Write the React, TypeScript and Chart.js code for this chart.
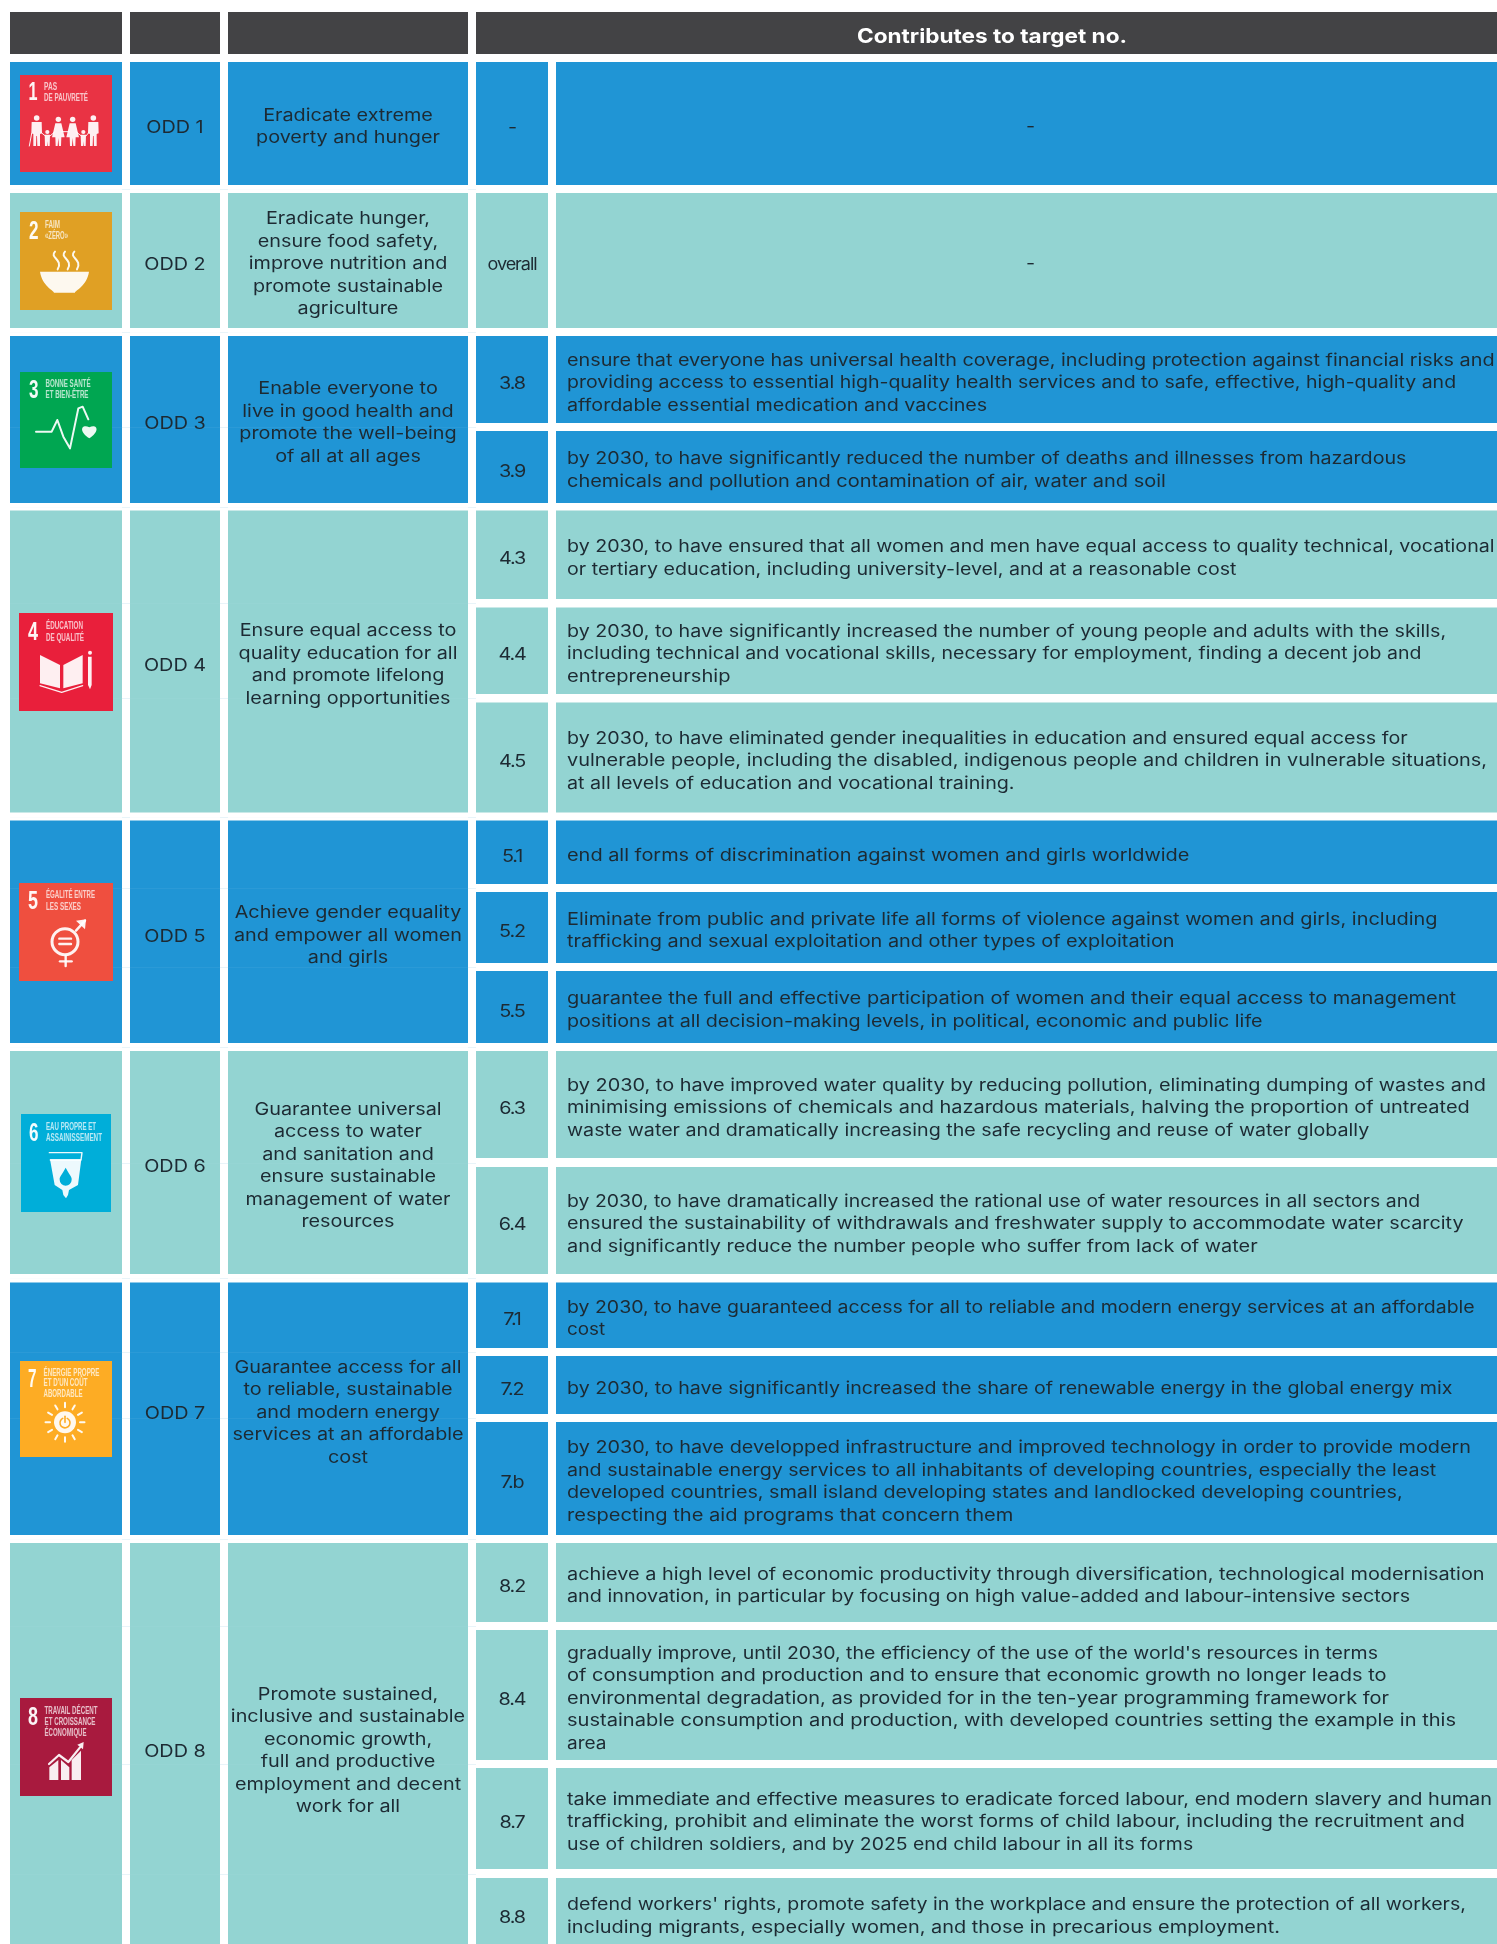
import React, { useEffect, useRef } from "react";
import { Chart, registerables } from "chart.js";

Chart.register(...registerables);

const WIDTH = 1497;
const HEIGHT = 1944;

const BLUE = "#2095d5";
const TEAL = "#93d4d2";
const DARK = "#434345";
const INK = "#1d2a33";

// ---- content -----
const headerTitle = "Contributes to target no.";
const goalLabels = ["ODD 1", "ODD 2", "ODD 3", "ODD 4", "ODD 5", "ODD 6", "ODD 7", "ODD 8"];
const goalTexts = [
  ["Eradicate extreme", "poverty and hunger"],
  ["Eradicate hunger,", "ensure food safety,", "improve nutrition and", "promote sustainable", "agriculture"],
  ["Enable everyone to", "live in good health and", "promote the well-being", "of all at all ages"],
  ["Ensure equal access to", "quality education for all", "and promote lifelong", "learning opportunities"],
  ["Achieve gender equality", "and empower all women", "and girls"],
  ["Guarantee universal", "access to water", "and sanitation and", "ensure sustainable", "management of water", "resources"],
  ["Guarantee access for all", "to reliable, sustainable", "and modern energy", "services at an affordable", "cost"],
  ["Promote sustained,", "inclusive and sustainable", "economic growth,", "full and productive", "employment and decent", "work for all"],
];
const targetGoal = [0, 1, 2, 2, 3, 3, 3, 4, 4, 4, 5, 5, 6, 6, 6, 7, 7, 7, 7];
const targetNumbers = ["-", "overall", "3.8", "3.9", "4.3", "4.4", "4.5", "5.1", "5.2", "5.5", "6.3", "6.4", "7.1", "7.2", "7.b", "8.2", "8.4", "8.7", "8.8"];
const targetTexts = [
  ["-"],
  ["-"],
  ["ensure that everyone has universal health coverage, including protection against financial risks and", "providing access to essential high-quality health services and to safe, effective, high-quality and", "affordable essential medication and vaccines"],
  ["by 2030, to have significantly reduced the number of deaths and illnesses from hazardous", "chemicals and pollution and contamination of air, water and soil"],
  ["by 2030, to have ensured that all women and men have equal access to quality technical, vocational", "or tertiary education, including university-level, and at a reasonable cost"],
  ["by 2030, to have significantly increased the number of young people and adults with the skills,", "including technical and vocational skills, necessary for employment, finding a decent job and", "entrepreneurship"],
  ["by 2030, to have eliminated gender inequalities in education and ensured equal access for", "vulnerable people, including the disabled, indigenous people and children in vulnerable situations,", "at all levels of education and vocational training."],
  ["end all forms of discrimination against women and girls worldwide"],
  ["Eliminate from public and private life all forms of violence against women and girls, including", "trafficking and sexual exploitation and other types of exploitation"],
  ["guarantee the full and effective participation of women and their equal access to management", "positions at all decision-making levels, in political, economic and public life"],
  ["by 2030, to have improved water quality by reducing pollution, eliminating dumping of wastes and", "minimising emissions of chemicals and hazardous materials, halving the proportion of untreated", "waste water and dramatically increasing the safe recycling and reuse of water globally"],
  ["by 2030, to have dramatically increased the rational use of water resources in all sectors and", "ensured the sustainability of withdrawals and freshwater supply to accommodate water scarcity", "and significantly reduce the number people who suffer from lack of water"],
  ["by 2030, to have guaranteed access for all to reliable and modern energy services at an affordable", "cost"],
  ["by 2030, to have significantly increased the share of renewable energy in the global energy mix"],
  ["by 2030, to have developped infrastructure and improved technology in order to provide modern", "and sustainable energy services to all inhabitants of developing countries, especially the least", "developed countries, small island developing states and landlocked developing countries,", "respecting the aid programs that concern them"],
  ["achieve a high level of economic productivity through diversification, technological modernisation", "and innovation, in particular by focusing on high value-added and labour-intensive sectors"],
  ["gradually improve, until 2030, the efficiency of the use of the world's resources in terms", "of consumption and production and to ensure that economic growth no longer leads to", "environmental degradation, as provided for in the ten-year programming framework for", "sustainable consumption and production, with developed countries setting the example in this", "area"],
  ["take immediate and effective measures to eradicate forced labour, end modern slavery and human", "trafficking, prohibit and eliminate the worst forms of child labour, including the recruitment and", "use of children soldiers, and by 2025 end child labour in all its forms"],
  ["defend workers' rights, promote safety in the workplace and ensure the protection of all workers,", "including migrants, especially women, and those in precarious employment."],
];
const iconNumbers = ["1", "2", "3", "4", "5", "6", "7", "8"];
const iconTitles = [
  ["PAS", "DE PAUVRETÉ"],
  ["FAIM", "«ZÉRO»"],
  ["BONNE SANTÉ", "ET BIEN-ÊTRE"],
  ["ÉDUCATION", "DE QUALITÉ"],
  ["ÉGALITÉ ENTRE", "LES SEXES"],
  ["EAU PROPRE ET", "ASSAINISSEMENT"],
  ["ÉNERGIE PROPRE", "ET D'UN COÛT", "ABORDABLE"],
  ["TRAVAIL DÉCENT", "ET CROISSANCE", "ÉCONOMIQUE"],
];
const iconColors = ["#e93344", "#e0a024", "#00a651", "#e91f3b", "#ef4f3f", "#00aed9", "#fdac24", "#a81a3e"];

// ---- layout (table grid in scale units) -----
const colStart = [10, 130, 228, 476, 556];
const colEnd = [122, 220, 468, 548, 1497];
const headerTop = 12;
const headerBottom = 54;
const goalTop = [62, 193, 336, 510.5, 820.5, 1051, 1282.5, 1543];
const goalBottom = [185, 328, 503, 812.5, 1043, 1274, 1535, 1944];
const goalTextCentre = [123.5, 260.5, 419.5, 661.5, 932, 1162.5, 1409, 1747.5];
const targetTop = [62, 193, 336, 431, 510.5, 607.5, 702.5, 820.5, 892, 971, 1051, 1167, 1282.5, 1356, 1422, 1543, 1630, 1768, 1878];
const targetBottom = [185, 328, 423, 503, 599, 694, 812.5, 884, 963, 1043, 1158, 1274, 1348, 1414, 1535, 1622, 1760, 1869, 1944];
const targetCentreFix: Record<number, number> = { 18: 1913 };
// right end of every target line (read from the shrunk 1207-wide view)
const targetLineEnd = [
  [0], [0],
  [1205, 1174, 796], [1134, 940], [1205, 997], [1166, 1146, 589], [1135, 1199, 818],
  [959], [1159, 947], [1174, 1018], [1198, 1185, 1104], [1145, 1180, 1014],
  [1189, 488], [1171], [1186, 1158, 1131, 817], [1197, 1137], [1111, 1118, 1120, 1174, 489],
  [1203, 1181, 962], [1182, 1032],
];
const VIEW_SCALE = 1497 / 1207;
const iconBox = [
  [20, 75, 112, 172], [20, 212, 112, 310], [20, 372, 112, 468], [19, 613, 113, 711],
  [19, 883, 113, 981], [21, 1114, 111, 1212], [20, 1361, 112, 1457], [20, 1698, 112, 1796],
];
const iconDigit = [[28.5, 100, 9], [29, 239, 9.5], [29, 398, 9.5], [28, 640, 10], [28, 909, 10], [29, 1141, 9.5], [28, 1387, 8.5], [28, 1725, 10]];
const iconTitleX = [44, 45, 45.5, 46, 46, 46, 43.5, 44.5];
const iconTitleY = [[90, 101], [227.5, 239], [387, 398], [629, 640.7], [898, 910], [1130, 1141], [1376, 1386, 1397], [1714, 1725, 1736]];
const iconTitleW = [[13, 44], [15, 23], [45, 43], [37, 38], [49, 35], [50, 56], [56, 44, 39], [53, 51, 42]];

const TEXT_FONT = "17px Inter";
const LINE = 22.5;
const BASE_OFF = 8.5;
const LABEL_OFF = 9.5;

const goalColour = (i: number) => (i % 2 === 0 ? BLUE : TEAL);

function columnData(col: number) {
  const cx = (colStart[col] + colEnd[col]) / 2;
  if (col < 3) {
    return [{ x: cx, y: [headerTop, headerBottom] }, ...goalTop.map((t, i) => ({ x: cx, y: [t, goalBottom[i]] }))];
  }
  return targetTop.map((t, i) => ({ x: cx, y: [t, targetBottom[i]] }));
}

function drawGlyph(c: CanvasRenderingContext2D, i: number, X: (v: number) => number, Y: (v: number) => number, colour: string) {
  const P = (px: number, py: number, oy: number): [number, number] => [X(px / 3), Y(oy + py / 3)];
  const W = "rgba(255,255,255,0.93)";
  c.fillStyle = W;
  c.strokeStyle = W;
  c.lineCap = "round";
  c.lineJoin = "round";
  const poly = (pts: [number, number][], fill = true) => {
    c.beginPath();
    pts.forEach((p, k) => (k ? c.lineTo(p[0], p[1]) : c.moveTo(p[0], p[1])));
    if (fill) { c.closePath(); c.fill(); } else c.stroke();
  };
  const circle = (p: [number, number], r: number) => { c.beginPath(); c.arc(p[0], p[1], r, 0, Math.PI * 2); c.fill(); };
  if (i === 0) {
    const man = (z: number) => {
      circle(P(z, 354, 0), 2.8);
      poly([P(z - 15, 366, 0), P(z + 15, 366, 0), P(z + 16, 400, 0), P(z + 10, 402, 0), P(z + 10, 438, 0), P(z + 2, 438, 0), P(z + 1, 408, 0), P(z - 1, 408, 0), P(z - 2, 438, 0), P(z - 10, 438, 0), P(z - 10, 402, 0), P(z - 16, 400, 0)]);
    };
    const woman = (z: number) => {
      circle(P(z, 358, 0), 2.7);
      poly([P(z - 9, 370, 0), P(z + 9, 370, 0), P(z + 19, 412, 0), P(z + 9, 412, 0), P(z + 8, 438, 0), P(z + 2, 438, 0), P(z, 414, 0), P(z - 2, 438, 0), P(z - 8, 438, 0), P(z - 9, 412, 0), P(z - 19, 412, 0)]);
    };
    const child = (z: number) => {
      circle(P(z, 396, 0), 2.1);
      poly([P(z - 8, 404, 0), P(z + 8, 404, 0), P(z + 7, 438, 0), P(z + 1, 438, 0), P(z, 424, 0), P(z - 1, 438, 0), P(z - 7, 438, 0)]);
    };
    man(110); child(142); woman(175); woman(218); child(250); man(280);
    c.lineWidth = 1;
    poly([P(124, 398, 0), P(136, 408, 0)], false);
    poly([P(150, 408, 0), P(165, 395, 0)], false);
    poly([P(185, 395, 0), P(208, 395, 0)], false);
    poly([P(228, 395, 0), P(244, 408, 0)], false);
    poly([P(258, 408, 0), P(266, 398, 0)], false);
    poly([P(95, 400, 0), P(88, 438, 0)], false);
  } else if (i === 1) {
    c.lineWidth = 2;
    [165, 195, 223].forEach((zx) => {
      c.beginPath();
      const a = P(zx, 755, 0), b = P(zx + 8, 808, 0);
      c.moveTo(a[0], a[1]);
      c.bezierCurveTo(a[0] - 6, a[1] + 6, b[0] + 6, b[1] - 10, b[0], b[1]);
      c.stroke();
    });
    const l = P(120, 815, 0), r = P(267, 815, 0);
    c.beginPath();
    c.moveTo(l[0], l[1]);
    c.lineTo(r[0], r[1]);
    c.bezierCurveTo(r[0] - 2, r[1] + 14, r[0] - 14, r[1] + 19, r[0] - 14, r[1] + 21);
    c.lineTo(l[0] + 14, l[1] + 21);
    c.bezierCurveTo(l[0] + 14, l[1] + 19, l[0] + 2, l[1] + 14, l[0], l[1]);
    c.fill();
  } else if (i === 2) {
    c.lineWidth = 2;
    poly([P(108, 275, 340), P(155, 275, 340), P(172, 240, 340), P(190, 290, 340), P(210, 325, 340), P(235, 205, 340), P(248, 200, 340), P(265, 238, 340)], false);
    const h = P(268, 268, 340);
    c.beginPath();
    c.moveTo(h[0], h[1] + 9);
    c.bezierCurveTo(h[0] - 12, h[1] + 1, h[0] - 7, h[1] - 6, h[0], h[1] - 2);
    c.bezierCurveTo(h[0] + 7, h[1] - 6, h[0] + 12, h[1] + 1, h[0], h[1] + 9);
    c.fill();
  } else if (i === 3) {
    poly([P(120, 945, 340), P(180, 975, 340), P(180, 1045, 340), P(120, 1030, 340)]);
    poly([P(190, 975, 340), P(248, 945, 340), P(248, 1030, 340), P(190, 1045, 340)]);
    c.lineWidth = 1.2;
    poly([P(120, 1037, 340), P(185, 1057, 340), P(248, 1037, 340)], false);
    poly([P(264, 950, 340), P(275, 950, 340), P(275, 1035, 340), P(270, 1048, 340), P(264, 1035, 340)]);
    circle(P(270, 938, 340), 2);
  } else if (i === 4) {
    c.lineWidth = 3;
    const o = P(195, 365, 820);
    c.beginPath(); c.arc(o[0], o[1], 13, 0, Math.PI * 2); c.stroke();
    c.lineWidth = 2.4;
    poly([P(178, 356, 820), P(213, 356, 820)], false);
    poly([P(178, 372, 820), P(213, 372, 820)], false);
    poly([P(197, 408, 820), P(197, 438, 820)], false);
    poly([P(180, 424, 820), P(215, 424, 820)], false);
    poly([P(228, 332, 820), P(255, 302, 820)], false);
    poly([P(228, 302, 820), P(258, 298, 820), P(255, 328, 820)]);
  } else if (i === 5) {
    c.lineWidth = 1.4;
    poly([P(148, 998, 820), P(246, 998, 820), P(243, 1020, 820), P(151, 1020, 820)], false);
    poly([P(150, 1018, 820), P(244, 1018, 820), P(234, 1095, 820), P(207, 1110, 820), P(204, 1125, 820), P(198, 1135, 820), P(190, 1125, 820), P(187, 1110, 820), P(164, 1095, 820)]);
    c.fillStyle = colour;
    const d = P(197, 1070, 820);
    c.beginPath();
    c.moveTo(d[0], d[1] - 9);
    c.bezierCurveTo(d[0] + 3, d[1] - 3, d[0] + 6.5, d[1], d[0] + 6, d[1] + 3);
    c.arc(d[0], d[1] + 3, 6, 0, Math.PI);
    c.bezierCurveTo(d[0] - 6.5, d[1], d[0] - 3, d[1] - 3, d[0], d[1] - 9);
    c.fill();
  } else if (i === 6) {
    const o = P(195, 427, 1280);
    c.lineWidth = 2;
    for (let k = 0; k < 12; k++) {
      const a = (k * Math.PI) / 6;
      c.beginPath();
      c.moveTo(o[0] + Math.cos(a) * 15, o[1] + Math.sin(a) * 15);
      c.lineTo(o[0] + Math.cos(a) * 19.5, o[1] + Math.sin(a) * 19.5);
      c.stroke();
    }
    circle(o, 11);
    c.strokeStyle = colour;
    c.lineWidth = 1.6;
    c.beginPath(); c.arc(o[0], o[1] + 0.5, 5, -1.1, Math.PI + 1.1); c.stroke();
    c.beginPath(); c.moveTo(o[0], o[1] - 6); c.lineTo(o[0], o[1]); c.stroke();
  } else {
    poly([P(148, 322, 1660), P(175, 300, 1660), P(175, 360, 1660), P(148, 360, 1660)]);
    poly([P(183, 300, 1660), P(208, 322, 1660), P(208, 360, 1660), P(183, 360, 1660)]);
    poly([P(215, 300, 1660), P(243, 272, 1660), P(243, 360, 1660), P(215, 360, 1660)]);
    c.lineWidth = 2.2;
    poly([P(147, 312, 1660), P(177, 285, 1660), P(205, 306, 1660), P(240, 262, 1660)], false);
    poly([P(232, 254, 1660), P(251, 246, 1660), P(249, 268, 1660)]);
  }
}

const tablePlugin = {
  id: "tableText",
  afterDatasetsDraw(chart: any) {
    const c: CanvasRenderingContext2D = chart.ctx;
    const xs = chart.scales.x;
    const ys = chart.scales.y;
    const X = (v: number) => xs.getPixelForValue(v);
    const Y = (v: number) => ys.getPixelForValue(v);
    c.save();
    c.textBaseline = "alphabetic";

    // faint seams at the target row boundaries: barely visible over cells, pale in the gaps
    c.lineWidth = 1;
    targetTop.forEach((t, i) => {
      if (i === 0) return;
      const my = Math.round((t + targetBottom[i - 1]) / 2) + 0.5;
      c.strokeStyle = "rgba(205,232,246,0.07)";
      c.beginPath();
      c.moveTo(X(10), Y(my));
      c.lineTo(X(468), Y(my));
      c.stroke();
      c.strokeStyle = "#e8f4f9";
      [[122, 130], [220, 228], [468, 476]].forEach(([a, b]) => {
        c.beginPath();
        c.moveTo(X(a), Y(my));
        c.lineTo(X(b), Y(my));
        c.stroke();
      });
    });

    // calibrated horizontal stretch of the substitute font
    c.font = TEXT_FONT;
    const sx = 928 / c.measureText(targetTexts[2][0]).width;

    const text = (s: string, x: number, y: number, align: CanvasTextAlign, k: number) => {
      c.save();
      c.translate(X(x), Y(y));
      c.scale(k, 1);
      c.textAlign = align;
      c.fillText(s, 0, 0);
      c.restore();
    };

    // header
    c.font = "bold 20px Inter";
    c.fillStyle = "#ffffff";
    const hk = 270 / c.measureText(headerTitle).width;
    text(headerTitle, 992, 43, "center", hk);

    // goals
    c.font = TEXT_FONT;
    c.fillStyle = INK;
    const gx2 = (colStart[1] + colEnd[1]) / 2;
    const gx3 = (colStart[2] + colEnd[2]) / 2;
    goalLabels.forEach((lab, i) => {
      const cy = goalTextCentre[i];
      text(lab, gx2, cy + LABEL_OFF, "center", sx);
      goalTexts[i].forEach((ln, k) => {
        text(ln, gx3, cy + (k - (goalTexts[i].length - 1) / 2) * LINE + BASE_OFF, "center", sx);
      });
    });

    // targets
    const nx = (colStart[3] + colEnd[3]) / 2;
    const dashX = 1030.5;
    const TEXT_LEFT = 567;
    targetNumbers.forEach((n, i) => {
      const cy = targetCentreFix[i] ?? (targetTop[i] + targetBottom[i]) / 2;
      c.save();
      (c as any).letterSpacing = "-1px";
      const kNum = n === "overall" ? 49 / c.measureText("overall").width : sx;
      text(n, nx, cy + LABEL_OFF, "center", kNum);
      c.restore();
      const lines = targetTexts[i];
      lines.forEach((ln, k) => {
        const y = cy + (k - (lines.length - 1) / 2) * LINE + BASE_OFF;
        if (ln === "-") {
          text(ln, dashX, y, "center", sx);
        } else {
          const w = targetLineEnd[i][k] * VIEW_SCALE - TEXT_LEFT;
          text(ln, TEXT_LEFT, y, "left", w / c.measureText(ln).width);
        }
      });
    });

    // icons
    iconBox.forEach((b, i) => {
      const col = iconColors[i];
      c.fillStyle = col;
      c.fillRect(X(b[0]), Y(b[1]), X(b[2]) - X(b[0]), Y(b[3]) - Y(b[1]));
      c.save();
      (c as any).filter = "blur(0.45px)";
      c.fillStyle = "rgba(255,255,255,0.95)";
      c.textAlign = "left";
      c.font = "bold 25px 'Liberation Sans'";
      const d = iconDigit[i];
      c.fillText(iconNumbers[i], X(d[0]), Y(d[1]), d[2]);
      c.fillStyle = "rgba(255,255,255,0.72)";
      c.font = "bold 11px 'Liberation Sans'";
      iconTitles[i].forEach((t, k) => {
        c.fillText(t, X(iconTitleX[i]), Y(iconTitleY[i][k]), iconTitleW[i][k]);
      });
      drawGlyph(c, i, X, Y, col);
      c.restore();
    });
    c.restore();
  },
};

export default function App() {
  const ref = useRef<HTMLCanvasElement>(null);
  useEffect(() => {
    document.body.style.margin = "0";
    const rowColours = [DARK, ...goalLabels.map((_, i) => goalColour(i))];
    const targetColours = targetGoal.map(goalColour);
    const datasets: any[] = [0, 1, 2].map((col) => ({
      label: "col" + col,
      data: columnData(col),
      backgroundColor: rowColours,
      barThickness: colEnd[col] - colStart[col],
      grouped: false,
    }));
    [3, 4].forEach((col) => {
      datasets.push({
        label: "col" + col,
        data: columnData(col),
        backgroundColor: targetColours,
        barThickness: colEnd[col] - colStart[col],
        grouped: false,
      });
    });
    datasets.push({
      label: "head",
      data: [{ x: (colStart[3] + colEnd[4]) / 2, y: [headerTop, headerBottom] }],
      backgroundColor: DARK,
      barThickness: colEnd[4] - colStart[3],
      grouped: false,
    });
    const chart = new Chart(ref.current as HTMLCanvasElement, {
      type: "bar",
      data: { datasets },
      options: {
        animation: false,
        responsive: false,
        devicePixelRatio: 1,
        layout: { padding: 0 },
        inflateAmount: 0,
        borderSkipped: false,
        plugins: { legend: { display: false }, title: { display: false }, tooltip: { enabled: false } },
        scales: {
          x: { type: "linear", min: 0, max: WIDTH, display: false, offset: false },
          y: { type: "linear", min: 0, max: HEIGHT, reverse: true, display: false },
        },
      } as any,
      plugins: [tablePlugin],
    });
    return () => chart.destroy();
  }, []);
  return (
    <div style={{ width: WIDTH, height: HEIGHT }}>
      <canvas ref={ref} width={WIDTH} height={HEIGHT} style={{ display: "block", width: WIDTH, height: HEIGHT }} />
    </div>
  );
}
